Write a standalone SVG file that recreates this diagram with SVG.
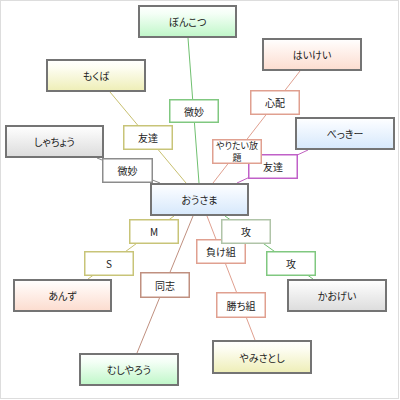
<svg xmlns="http://www.w3.org/2000/svg" width="400" height="400" viewBox="0 0 400 400">
<defs>
<linearGradient id="gGreen" x1="0" y1="0" x2="0" y2="1"><stop offset="0" stop-color="#ffffff"/><stop offset="0.25" stop-color="#f4fff6"/><stop offset="1" stop-color="#bff7c8"/></linearGradient>
<linearGradient id="gYellow" x1="0" y1="0" x2="0" y2="1"><stop offset="0" stop-color="#ffffff"/><stop offset="0.25" stop-color="#fdfdf2"/><stop offset="1" stop-color="#eeeeb6"/></linearGradient>
<linearGradient id="gGray" x1="0" y1="0" x2="0" y2="1"><stop offset="0" stop-color="#ffffff"/><stop offset="0.25" stop-color="#f6f6f6"/><stop offset="1" stop-color="#dcdcdc"/></linearGradient>
<linearGradient id="gPeach" x1="0" y1="0" x2="0" y2="1"><stop offset="0" stop-color="#ffffff"/><stop offset="0.25" stop-color="#fff6f2"/><stop offset="1" stop-color="#fcdccf"/></linearGradient>
<linearGradient id="gBlue" x1="0" y1="0" x2="0" y2="1"><stop offset="0" stop-color="#ffffff"/><stop offset="0.25" stop-color="#f4f9ff"/><stop offset="1" stop-color="#d6e8fb"/></linearGradient>
</defs>
<style>
text{font-family:"Noto Sans CJK JP","Noto Sans",sans-serif;font-size:10px;fill:#222;text-anchor:middle;dominant-baseline:central;font-feature-settings:"palt"}
text.small{font-size:9px}
.node rect{stroke:#747474;stroke-width:2}
.lbl rect{fill:#ffffff;stroke-width:1.5}
.edges line{stroke-width:1;fill:none}
</style>
<rect x="0.5" y="0.5" width="398" height="398" fill="#ffffff" stroke="#dddddd" stroke-width="1"/>
<g id="connectors" class="edges">
<line x1="188" y1="38" x2="199" y2="183" stroke="#70c070"/>
<line x1="110" y1="92" x2="186" y2="183" stroke="#c8c070"/>
<line x1="97" y1="158" x2="160" y2="183" stroke="#888888"/>
<line x1="300" y1="71" x2="213" y2="183" stroke="#e0a090"/>
<line x1="308" y1="150" x2="237" y2="183" stroke="#c060c0"/>
<line x1="174" y1="216" x2="88" y2="279" stroke="#c8c070"/>
<line x1="193" y1="216" x2="137" y2="353" stroke="#c09080"/>
<line x1="207" y1="216" x2="255" y2="340" stroke="#e0a090"/>
<line x1="225" y1="216" x2="313" y2="279" stroke="#70c070"/>
</g>
<g id="edge-labels">
<g id="l-bimyou1" class="lbl"><rect x="169.75" y="99.75" width="48.5" height="22.5" stroke="#80c880"/><text x="194" y="111">微妙</text></g>
<g id="l-tomodachi1" class="lbl"><rect x="123.75" y="125.75" width="48.5" height="23.5" stroke="#c8c478"/><text x="148" y="137.5">友達</text></g>
<g id="l-bimyou2" class="lbl"><rect x="102.75" y="158.75" width="49.5" height="23.5" stroke="#8c8c8c"/><text x="127.5" y="170.5">微妙</text></g>
<g id="l-shinpai" class="lbl"><rect x="250.75" y="90.75" width="48.5" height="23.5" stroke="#e0a090"/><text x="275" y="102.5">心配</text></g>
<g id="l-tomodachi2" class="lbl"><rect x="248.75" y="154.75" width="48.5" height="23.5" stroke="#c060c8"/><text x="273" y="166.5">友達</text></g>
<g id="l-yaritai" class="lbl"><rect x="212.75" y="139.75" width="48.5" height="23.5" stroke="#e0a090"/><text class="small" x="237" y="145.5">やりたい放</text><text class="small" x="237" y="157">題</text></g>
<g id="l-M" class="lbl"><rect x="129.75" y="219.75" width="48.5" height="23.5" stroke="#c8c478"/><text x="154" y="231.5">M</text></g>
<g id="l-S" class="lbl"><rect x="84.75" y="251.75" width="48.5" height="23.5" stroke="#c8c478"/><text x="109" y="263.5">S</text></g>
<g id="l-doushi" class="lbl"><rect x="140.75" y="272.75" width="48.5" height="24.5" stroke="#c09080"/><text x="165" y="285">同志</text></g>
<g id="l-makegumi" class="lbl"><rect x="196.75" y="239.75" width="48.5" height="23.5" stroke="#e0a090"/><text x="221" y="251.5">負け組</text></g>
<g id="l-kou1" class="lbl"><rect x="221.75" y="219.75" width="48.5" height="23.5" stroke="#b0c4a8"/><text x="246" y="231.5">攻</text></g>
<g id="l-kou2" class="lbl"><rect x="266.75" y="251.75" width="48.5" height="23.5" stroke="#80c880"/><text x="291" y="263.5">攻</text></g>
<g id="l-kachigumi" class="lbl"><rect x="216.75" y="292.75" width="48.5" height="24.5" stroke="#e0a090"/><text x="241" y="305">勝ち組</text></g>
</g>
<g id="n-bonkotsu" class="node"><rect x="139" y="6" width="97" height="31" fill="url(#gGreen)"/><text x="187.5" y="21.5">ぼんこつ</text></g>
<g id="n-mokuba" class="node"><rect x="47" y="60" width="98" height="31" fill="url(#gYellow)"/><text x="96" y="75.5">もくば</text></g>
<g id="n-shachou" class="node"><rect x="6" y="126" width="97" height="31" fill="url(#gGray)"/><text x="54.5" y="141.5">しゃちょう</text></g>
<g id="n-haikei" class="node"><rect x="263" y="39" width="98" height="31" fill="url(#gPeach)"/><text x="312" y="54.5">はいけい</text></g>
<g id="n-bekki" class="node"><rect x="296" y="118" width="98" height="31" fill="url(#gBlue)"/><text x="345" y="133.5">べっきー</text></g>
<g id="n-ousama" class="node"><rect x="151" y="184" width="97" height="31" fill="url(#gBlue)"/><text x="199.5" y="199.5">おうさま</text></g>
<g id="n-anzu" class="node"><rect x="14" y="280" width="97" height="31" fill="url(#gPeach)"/><text x="62.5" y="295.5">あんず</text></g>
<g id="n-mushiyarou" class="node"><rect x="80" y="354" width="98" height="31" fill="url(#gGreen)"/><text x="129" y="369.5">むしやろう</text></g>
<g id="n-kaogei" class="node"><rect x="288" y="280" width="98" height="31" fill="url(#gGray)"/><text x="337" y="295.5">かおげい</text></g>
<g id="n-yamisatoshi" class="node"><rect x="213" y="341" width="98" height="32" fill="url(#gYellow)"/><text x="262" y="357">やみさとし</text></g>
</svg>
